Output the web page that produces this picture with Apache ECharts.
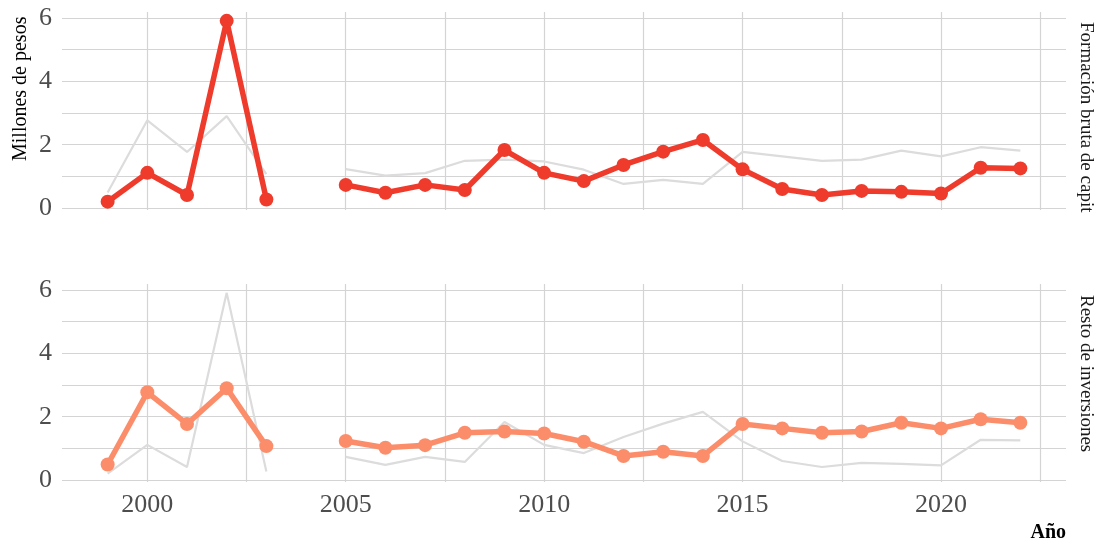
<!DOCTYPE html>
<html>
<head>
<meta charset="utf-8">
<script src="https://cdn.jsdelivr.net/npm/echarts@6/dist/echarts.min.js"></script>
<style>
    html, body { margin: 0; padding: 0; background: #fff; }
    #chart { width: 1097px; height: 547px; }
</style>
</head>
<body>
<div id="chart"></div>
<script>
// data (millones de pesos), 2004 missing
const years = [1999, 2000, 2001, 2002, 2003, 2004, 2005, 2006, 2007, 2008, 2009, 2010,
    2011, 2012, 2013, 2014, 2015, 2016, 2017, 2018, 2019, 2020, 2021, 2022];
const formacion = [0.20, 1.11, 0.41, 5.91, 0.27, null, 0.73, 0.48, 0.73, 0.57, 1.83, 1.11,
    0.85, 1.36, 1.78, 2.15, 1.22, 0.60, 0.41, 0.54, 0.51, 0.46, 1.27, 1.25];
const resto = [0.49, 2.77, 1.77, 2.90, 1.07, null, 1.23, 1.02, 1.10, 1.49, 1.53, 1.47,
    1.21, 0.76, 0.89, 0.76, 1.77, 1.63, 1.49, 1.53, 1.81, 1.63, 1.92, 1.81];
const panelNames = ['Formación bruta de capital', 'Resto de inversiones'];
const xLabelValues = [2000, 2005, 2010, 2015, 2020];
const xGridValues = [2000, 2002.5, 2005, 2007.5, 2010, 2012.5, 2015, 2017.5, 2020, 2022.5];
const yLabelValues = [0, 2, 4, 6];
const yGridValues = [0, 1, 2, 3, 4, 5, 6];

const font = 'Liberation Serif';
const gridColor = '#d4d4d4';

function pairs(vals) {
    return years.map((y, i) => [y, vals[i] == null ? '-' : vals[i]]);
}

function xAxis(idx, showLabels) {
    return {
        type: 'value', gridIndex: idx,
        min: 1997.85, max: 2023.15,
        axisLine: { show: false },
        axisTick: { show: false, customValues: xGridValues },
        splitLine: { show: true, lineStyle: { color: gridColor, width: 1.2 } },
        axisLabel: {
            show: showLabels, customValues: xLabelValues, margin: 10,
            formatter: v => String(v),
            fontFamily: font, fontSize: 26, color: '#4d4d4d'
        }
    };
}

function yAxis(idx) {
    return {
        type: 'value', gridIndex: idx,
        min: -0.063, max: 6.19,
        axisLine: { show: false },
        axisTick: { show: false, customValues: yGridValues },
        splitLine: { show: true, lineStyle: { color: gridColor, width: 1.2 } },
        axisLabel: {
            customValues: yLabelValues, margin: 10,
            fontFamily: font, fontSize: 26, color: '#4d4d4d'
        }
    };
}

function greyLine(idx, vals) {
    return {
        type: 'line', xAxisIndex: idx, yAxisIndex: idx,
        data: pairs(vals), showSymbol: false, silent: true,
        lineStyle: { color: '#dcdcdc', width: 2.2 }
    };
}

function mainLine(idx, vals, color) {
    return {
        type: 'line', xAxisIndex: idx, yAxisIndex: idx,
        data: pairs(vals), symbol: 'circle', symbolSize: 14,
        itemStyle: { color: color },
        lineStyle: { color: color, width: 5.5 }
    };
}

function stripLabel(text, y) {
    return {
        type: 'text', x: 1095, y: y, rotation: -Math.PI / 2,
        style: {
            text: text, fontFamily: font, fontSize: 19, fill: '#1a1a1a',
            width: 200, overflow: 'truncate', ellipsis: ''
        }
    };
}

const chart = echarts.init(document.getElementById('chart'));
chart.setOption({
    animation: false,
    grid: [
        { left: 62, right: 31, top: 12, height: 198 },
        { left: 62, right: 31, top: 284, height: 198 }
    ],
    xAxis: [xAxis(0, false), xAxis(1, true)],
    yAxis: [yAxis(0), yAxis(1)],
    series: [
        greyLine(0, resto),
        mainLine(0, formacion, '#ee3b2c'),
        greyLine(1, formacion),
        mainLine(1, resto, '#fc8d6a')
    ],
    graphic: [
        {
            type: 'text', x: 11, y: 161, rotation: Math.PI / 2,
            style: { text: 'Millones de pesos', fontFamily: font, fontSize: 20, fill: '#000' }
        },
        stripLabel(panelNames[0], 22),
        stripLabel(panelNames[1], 295),
        {
            type: 'text', right: 31, top: 523,
            style: { text: 'Año', fontFamily: font, fontSize: 20, fontWeight: 'bold', fill: '#000' }
        }
    ]
});
</script>
</body>
</html>
